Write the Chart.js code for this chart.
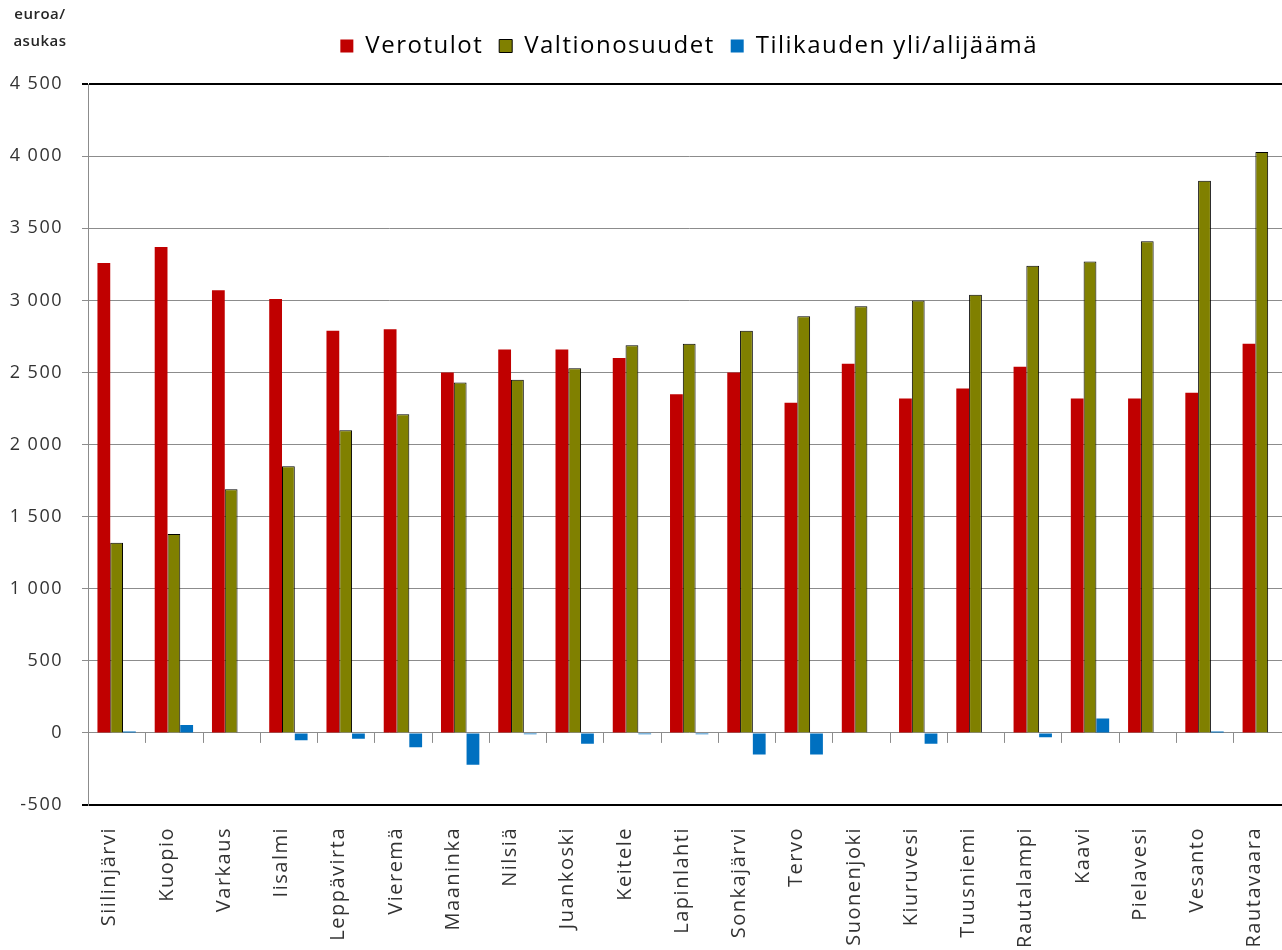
<!DOCTYPE html>
<html lang="fi">
<head>
<meta charset="utf-8">
<title>Verotulot ja valtionosuudet</title>
<script src="https://cdn.jsdelivr.net/npm/chart.js@4.4.1/dist/chart.umd.min.js"></script>
<style>
  html, body { margin: 0; padding: 0; background: #fff; overflow: hidden; }
  #wrap { position: relative; width: 1300px; height: 950px; }
  #unit {
    position: absolute; left: 8px; top: 0px; width: 64px;
    font: 600 15px 'Open Sans', sans-serif; line-height: 27px;
    letter-spacing: 0.5px; text-align: center; color: #262626;
  }
</style>
</head>
<body>
<div id="wrap">
  <canvas id="chart"></canvas>
  <div id="unit">euroa/<br>asukas</div>
</div>
<script>
// Data
const municipalities = ['Siilinjärvi', 'Kuopio', 'Varkaus', 'Iisalmi', 'Leppävirta', 'Vieremä', 'Maaninka',
    'Nilsiä', 'Juankoski', 'Keitele', 'Lapinlahti', 'Sonkajärvi', 'Tervo', 'Suonenjoki', 'Kiuruvesi',
    'Tuusniemi', 'Rautalampi', 'Kaavi', 'Pielavesi', 'Vesanto', 'Rautavaara'];
const verotulot = [3260, 3370, 3070, 3010, 2790, 2800, 2500, 2660, 2660, 2600, 2350,
    2500, 2290, 2560, 2320, 2390, 2540, 2320, 2320, 2360, 2700];
const valtionosuudet = [1320, 1380, 1690, 1850, 2100, 2210, 2430, 2450, 2530, 2690, 2700,
    2790, 2890, 2960, 3000, 3040, 3240, 3270, 3410, 3830, 4030];
const yliAlijaama = [10, 55, 0, -50, -40, -100, -220, -10, -75, -10, -10,
    -150, -150, 0, -75, 0, -30, 100, 0, 10, 0];
const yTicks = [-500, 0, 500, 1000, 1500, 2000, 2500, 3000, 3500, 4000, 4500];

Chart.defaults.font.family = "'Open Sans', sans-serif";
Chart.defaults.color = '#404040';

// Format 4500 -> "4 500"
function formatTick(v) {
    const s = String(Math.abs(v)).replace(/\B(?=(\d{3})+(?!\d))/g, ' ');
    return (v < 0 ? '-' : '') + s;
}

// Wider letter spacing like the original picture
const spacing = {
    id: 'spacing',
    beforeLayout(chart) { chart.ctx.letterSpacing = '1.5px'; },
    afterLayout(chart) {
        // category labels are spaced out even more
        const xs = chart.scales.x;
        if (xs && !xs._spaced) {
            const draw = xs.draw;
            xs.draw = function(area) {
                const c = this.ctx;
                const old = c.letterSpacing;
                c.letterSpacing = '2.8px';
                draw.call(this, area);
                c.letterSpacing = old;
            };
            xs._spaced = true;
        }
    },
    beforeDraw(chart) { chart.ctx.letterSpacing = '1.5px'; }
};

// Small tick marks under the zero line between categories
const zeroTicks = {
    id: 'zeroTicks',
    beforeDatasetsDraw(chart) {
        const x = chart.scales.x, y = chart.scales.y;
        const y0 = y.getPixelForValue(0);
        const ctx = chart.ctx;
        ctx.save();
        ctx.strokeStyle = '#8c8c8c';
        ctx.lineWidth = 1;
        ctx.beginPath();
        for (let i = 0; i <= municipalities.length; i++) {
            const px = Math.round(x.getPixelForValue(i - 0.5)) + 0.5;
            ctx.moveTo(px, y0);
            ctx.lineTo(px, y0 + 10);
        }
        ctx.stroke();
        ctx.restore();
    }
};

const chart = new Chart(document.getElementById('chart'), {
    type: 'bar',
    data: {
        labels: municipalities,
        datasets: [{
            label: 'Verotulot',
            data: verotulot,
            backgroundColor: '#c00000',
            borderWidth: 0
        }, {
            label: 'Valtionosuudet',
            data: valtionosuudet,
            backgroundColor: '#808000',
            borderColor: '#000000',
            borderWidth: 1
        }, {
            label: 'Tilikauden yli/alijäämä',
            data: yliAlijaama,
            backgroundColor: '#0070c0',
            borderWidth: 0
        }]
    },
    options: {
        responsive: true,
        maintainAspectRatio: false,
        animation: false,
        layout: { padding: { top: 18, right: 2, left: 0, bottom: 0 } },
        datasets: {
            bar: { categoryPercentage: 0.67, barPercentage: 1 }
        },
        plugins: {
            legend: {
                position: 'top',
                fullSize: false,
                labels: {
                    color: '#000',
                    font: { size: 24 },
                    boxWidth: 13,
                    boxHeight: 13,
                    padding: 16
                }
            },
            // empty spacer between legend and plot
            title: {
                display: true,
                text: '',
                weight: 500,
                font: { size: 1 },
                padding: { top: 0, bottom: 15 }
            },
            tooltip: { enabled: false }
        },
        scales: {
            x: {
                grid: { display: false },
                border: { display: false },
                ticks: {
                    autoSkip: false,
                    maxRotation: 90,
                    minRotation: 90,
                    padding: 14,
                    labelOffset: -7,
                    color: '#333',
                    font: { size: 20 }
                },
                afterFit(scale) { scale.height = 145; }
            },
            y: {
                min: -500,
                max: 4500,
                afterBuildTicks(scale) { scale.ticks = yTicks.map(v => ({ value: v })); },
                grid: {
                    color: ctx => (ctx.tick && (ctx.tick.value === 4500 || ctx.tick.value === -500)) ? '#000' : '#8c8c8c',
                    lineWidth: ctx => (ctx.tick && (ctx.tick.value === 4500 || ctx.tick.value === -500)) ? 2 : 1,
                    tickLength: 6
                },
                border: { color: '#8c8c8c', width: 1 },
                ticks: {
                    padding: 19,
                    color: '#333',
                    font: { size: 18 },
                    callback: v => formatTick(v)
                },
                afterFit(scale) { scale.width = 88; }
            }
        }
    },
    plugins: [spacing, zeroTicks]
});
</script>
</body>
</html>
